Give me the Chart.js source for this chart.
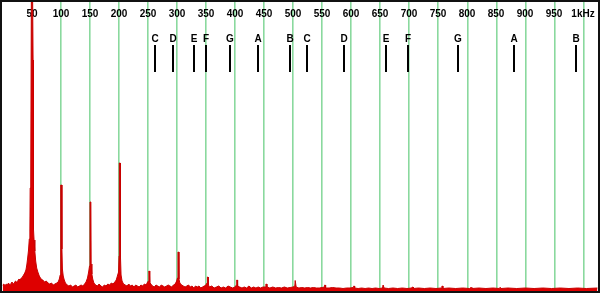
<!DOCTYPE html>
<html>
<head>
<meta charset="utf-8">
<script src="https://cdn.jsdelivr.net/npm/chart.js@4"></script>
<style>
    body { margin: 0; background: #fff; }
    #frame { width: 600px; height: 293px; box-sizing: border-box; border: 2px solid #111; }
    canvas { display: block; }
</style>
</head>
<body>
<div id="frame"><canvas id="spectrumChart" width="596" height="289"></canvas></div>
<script>
// grid lines + labels along the top
const gridFreqs = [50, 100, 150, 200, 250, 300, 350, 400, 450, 500, 550, 600, 650, 700, 750, 800, 850, 900, 950, 1000];
const gridLabels = ['50', '100', '150', '200', '250', '300', '350', '400', '450', '500', '550', '600', '650', '700', '750', '800', '850', '900', '950', '1kHz'];

// note markers (C4..B5)
const noteNames = ['C', 'D', 'E', 'F', 'G', 'A', 'B', 'C', 'D', 'E', 'F', 'G', 'A', 'B'];
const noteFreqs = [261.63, 293.66, 329.63, 349.23, 392.0, 440.0, 493.88, 523.25, 587.33, 659.25, 698.46, 783.99, 880.0, 987.77];

// spectrum: [frequency Hz, level]
const spectrum = [
    [0, 6], [2, 7], [4, 5], [6, 7], [8, 6], [10, 8], [12, 6], [14, 7], [16, 9], [18, 7],
    [20, 8], [22, 10], [24, 9], [26, 10], [28, 12], [30, 11], [32, 13], [34, 14], [36, 16], [38, 18],
    [40, 21], [41.5, 26], [43, 33], [44.5, 41], [45.8, 52], [46.8, 60], [47.3, 103], [48.3, 110], [49.3, 289], [51.6, 289],
    [52.3, 231], [52.8, 231], [53.2, 62], [54, 51], [55.3, 40], [56.8, 30], [58.5, 23], [60.5, 19], [63, 15], [66, 12],
    [69, 11], [72, 9], [75, 10], [78, 8], [81, 7], [84, 8], [87, 6], [90, 7], [93, 8], [95.5, 9],
    [97.5, 12], [99, 16], [99.7, 45], [100.2, 106], [101.5, 106], [102, 42], [102.8, 22], [104.2, 15], [106, 11], [108, 8],
    [111, 6], [114, 5], [117, 6], [120, 4], [123, 5], [126, 6], [129, 4], [132, 5], [135, 6], [138, 5],
    [141, 7], [143.5, 9], [146, 13], [148, 19], [149.5, 25], [150.3, 89], [151.8, 89], [152.3, 27], [153.5, 17], [155, 12],
    [157, 8], [160, 6], [163, 5], [166, 7], [169, 5], [172, 4], [175, 6], [178, 5], [181, 7], [184, 6],
    [187, 8], [190, 7], [193, 9], [195.5, 11], [197.5, 15], [199.5, 19], [200.3, 35], [200.8, 128], [202.3, 128], [202.8, 34],
    [203.8, 16], [205.5, 10], [208, 7], [211, 6], [214, 5], [217, 7], [220, 5], [223, 6], [226, 4], [229, 6],
    [232, 5], [235, 4], [238, 6], [241, 5], [244, 7], [247, 6], [249.5, 9], [251, 10], [251.7, 20], [252.5, 20],
    [253.2, 9], [255, 7], [258, 5], [261, 4], [264, 6], [267, 5], [270, 4], [273, 6], [276, 5], [279, 4],
    [282, 5], [285, 6], [288, 5], [291, 4], [294, 6], [297, 7], [299.5, 10], [301, 13], [301.8, 39], [302.9, 39],
    [303.5, 12], [305, 8], [308, 6], [311, 5], [314, 4], [317, 5], [320, 6], [323, 4], [326, 5], [329, 3],
    [332, 5], [335, 4], [338, 5], [341, 3], [344, 4], [347, 5], [350, 6], [351.8, 8], [352.5, 14], [353.5, 14],
    [354.3, 6], [356, 4], [360, 5], [364, 3], [368, 4], [372, 5], [376, 3], [380, 4], [384, 3], [388, 5],
    [392, 4], [396, 3], [400, 4], [402.5, 6], [403, 11], [404, 11], [404.5, 5], [408, 4], [412, 3], [416, 4],
    [420, 3], [424, 5], [428, 3], [432, 4], [436, 3], [440, 4], [444, 3], [448, 4], [452, 4], [453.2, 7],
    [454.2, 7], [455, 4], [460, 3], [465, 4], [470, 3], [475, 3.5], [480, 3], [485, 4], [490, 3], [495, 3.5],
    [500, 4], [503, 5], [503.6, 10.5], [504.6, 10.5], [505.3, 4], [510, 3], [515, 3.5], [520, 3], [525, 3.5], [530, 3],
    [535, 3.5], [540, 3], [545, 3], [550, 3.5], [553.8, 4], [554.4, 6], [555.3, 6], [556, 3], [562, 3], [568, 3.5],
    [574, 3], [580, 3], [586, 2.5], [592, 3], [598, 3], [603.5, 3.5], [604.4, 5], [605.4, 5], [606, 3], [612, 2.5],
    [618, 3], [624, 2.5], [630, 3], [636, 2.5], [642, 3], [648, 2.5], [654, 3], [655, 6], [656, 6], [656.7, 3],
    [664, 2.5], [672, 3], [680, 2.5], [688, 3], [696, 2.5], [704, 3], [705.5, 4], [706.5, 4], [707.3, 2.5], [716, 3],
    [726, 2.5], [736, 3], [746, 2.5], [755, 3], [756.3, 5], [757.3, 5], [758, 2.5], [768, 3], [780, 2.5], [792, 3],
    [804, 2.5], [806, 3.5], [807, 3.5], [808, 2.5], [820, 3], [832, 2.5], [844, 3], [855.5, 2.5], [856, 3.5], [857, 3.5],
    [858, 2.5], [870, 3], [885, 2.5], [900, 3], [915, 2.5], [930, 3], [945, 2.5], [960, 3], [975, 2.5], [990, 3],
    [1005, 2.5], [1024, 3]
];

// frequency labels and note markers, drawn with the x scale
const overlayPlugin = {
    id: 'overlay',
    beforeDatasetsDraw(chart) {
        const ctx = chart.ctx;
        const area = chart.chartArea;
        const x = chart.scales.x;
        ctx.save();
        ctx.fillStyle = '#000';
        ctx.strokeStyle = '#000';
        ctx.textAlign = 'center';
        ctx.textBaseline = 'alphabetic';
        ctx.font = 'bold 10px "Liberation Sans", Arial, sans-serif';
        gridFreqs.forEach(function (f, i) {
            ctx.fillText(gridLabels[i], Math.round(x.getPixelForValue(f)), area.top + 15);
        });
        ctx.lineWidth = 2;
        noteFreqs.forEach(function (f, i) {
            const px = Math.round(x.getPixelForValue(f));
            ctx.fillText(noteNames[i], px, area.top + 40);
            ctx.beginPath();
            ctx.moveTo(px, area.top + 43);
            ctx.lineTo(px, area.top + 70);
            ctx.stroke();
        });
        ctx.restore();
    }
};

new Chart(document.getElementById('spectrumChart'), {
    type: 'line',
    data: {
        datasets: [{
            data: spectrum.map(function (p) { return { x: p[0], y: p[1] }; }),
            borderColor: '#c80000',
            backgroundColor: '#de0000',
            borderWidth: 1,
            pointRadius: 0,
            tension: 0,
            fill: 'origin'
        }]
    },
    options: {
        responsive: false,
        animation: false,
        devicePixelRatio: 1,
        layout: { padding: 0 },
        scales: {
            x: {
                type: 'linear',
                min: -1.2,
                max: 1025,
                afterBuildTicks: function (scale) {
                    scale.ticks = gridFreqs.map(function (v) { return { value: v }; });
                },
                ticks: { display: false },
                grid: { color: '#8ad99e', lineWidth: 1.6, drawTicks: false },
                border: { display: false }
            },
            y: {
                display: false,
                min: 0,
                max: 289
            }
        },
        plugins: {
            legend: { display: false },
            tooltip: { enabled: false }
        }
    },
    plugins: [overlayPlugin]
});
</script>
</body>
</html>
